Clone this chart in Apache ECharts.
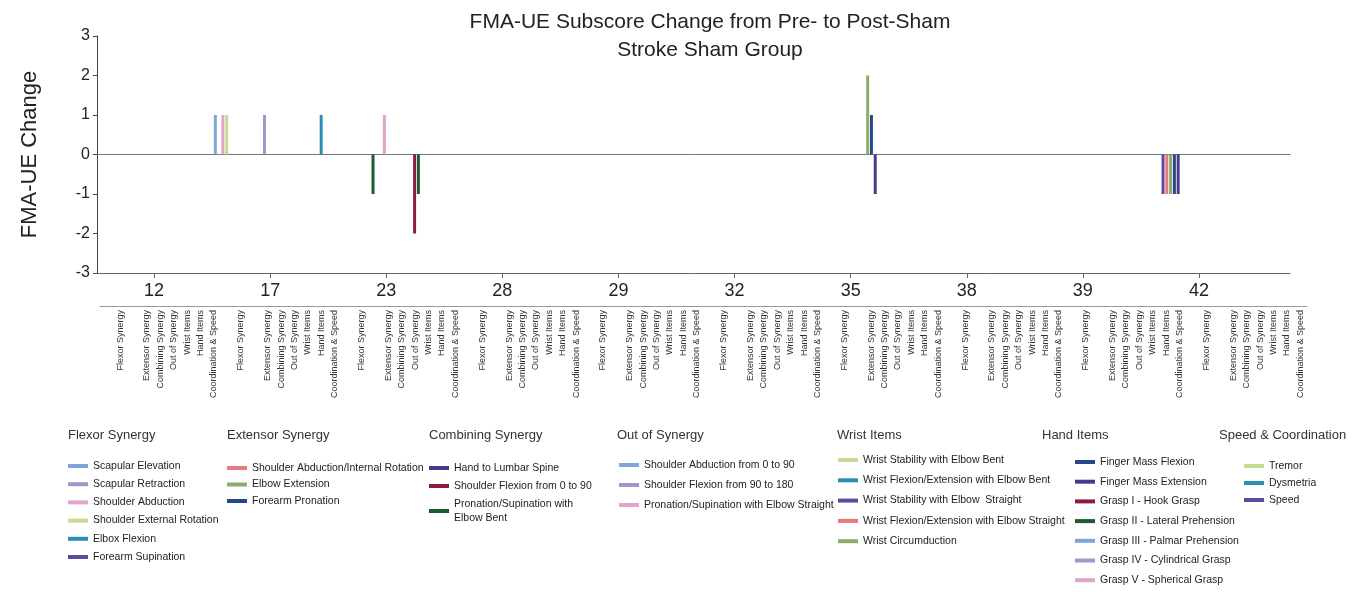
<!DOCTYPE html>
<html>
<head>
<meta charset="utf-8">
<script src="https://cdn.jsdelivr.net/npm/echarts@6/dist/echarts.min.js"></script>
<style>
html,body{margin:0;padding:0;background:#fff;}
#chart{width:1368px;height:592px;}
</style>
</head>
<body>
<div id="chart"></div>
<script>
// ---- Data ----
const participants = ['12', '17', '23', '28', '29', '32', '35', '38', '39', '42'];
const yTicks = [-3, -2, -1, 0, 1, 2, 3];
const sectionLabels = ['Flexor Synergy', 'Extensor Synergy', 'Combining Synergy', 'Out of Synergy', 'Wrist Items', 'Hand Items', 'Coordination & Speed'];

const flexorItems = ['Scapular Elevation', 'Scapular Retraction', 'Shoulder Abduction', 'Shoulder External Rotation', 'Elbox Flexion', 'Forearm Supination'];
const flexorValues = [
  [0, 1, 0, 0, 0, 0, 0, 0, 0, 0],
  [0, 0, 0, 0, 0, 0, 0, 0, 0, 0],
  [0, 1, 0, 0, 0, 0, 0, 0, 0, 0],
  [0, 1, 0, 0, 0, 0, 0, 0, 0, 0],
  [0, 0, 0, 0, 0, 0, 0, 0, 0, 0],
  [0, 0, 0, 0, 0, 0, 0, 0, 0, -1]
];
const extensorItems = ['Shoulder Abduction/Internal Rotation', 'Elbow Extension', 'Forearm Pronation'];
const extensorValues = [
  [0, 0, 0, 0, 0, 0, 0, 0, 0, -1],
  [0, 0, 0, 0, 0, 0, 0, 0, 0, -1],
  [0, 0, 0, 0, 0, 0, 0, 0, 0, -1]
];
const combiningItems = ['Hand to Lumbar Spine', 'Shoulder Flexion from 0 to 90', 'Pronation/Supination with Elbow Bent'];
const combiningValues = [
  [0, 0, 0, 0, 0, 0, 0, 0, 0, -1],
  [0, 0, 0, 0, 0, 0, 0, 0, 0, 0],
  [0, 0, -1, 0, 0, 0, 0, 0, 0, 0]
];
const outItems = ['Shoulder Abduction from 0 to 90', 'Shoulder Flexion from 90 to 180', 'Pronation/Supination with Elbow Straight'];
const outValues = [
  [0, 0, 0, 0, 0, 0, 0, 0, 0, 0],
  [0, 1, 0, 0, 0, 0, 0, 0, 0, 0],
  [0, 0, 1, 0, 0, 0, 0, 0, 0, 0]
];
const wristItems = ['Wrist Stability with Elbow Bent', 'Wrist Flexion/Extension with Elbow Bent', 'Wrist Stability with Elbow  Straight', 'Wrist Flexion/Extension with Elbow Straight', 'Wrist Circumduction'];
const wristValues = [
  [0, 0, 0, 0, 0, 0, 0, 0, 0, 0],
  [0, 0, 0, 0, 0, 0, 0, 0, 0, 0],
  [0, 0, 0, 0, 0, 0, 0, 0, 0, 0],
  [0, 0, 0, 0, 0, 0, 0, 0, 0, 0],
  [0, 0, 0, 0, 0, 0, 2, 0, 0, 0]
];
const handItems = ['Finger Mass Flexion', 'Finger Mass Extension', 'Grasp I - Hook Grasp', 'Grasp II - Lateral Prehension', 'Grasp III - Palmar Prehension', 'Grasp IV - Cylindrical Grasp', 'Grasp V - Spherical Grasp'];
const handValues = [
  [0, 0, 0, 0, 0, 0, 1, 0, 0, 0],
  [0, 0, 0, 0, 0, 0, -1, 0, 0, 0],
  [0, 0, -2, 0, 0, 0, 0, 0, 0, 0],
  [0, 0, -1, 0, 0, 0, 0, 0, 0, 0],
  [0, 0, 0, 0, 0, 0, 0, 0, 0, 0],
  [0, 0, 0, 0, 0, 0, 0, 0, 0, 0],
  [0, 0, 0, 0, 0, 0, 0, 0, 0, 0]
];
const speedItems = ['Tremor', 'Dysmetria', 'Speed'];
const speedValues = [
  [0, 0, 0, 0, 0, 0, 0, 0, 0, 0],
  [0, 1, 0, 0, 0, 0, 0, 0, 0, 0],
  [0, 0, 0, 0, 0, 0, 0, 0, 0, 0]
];

const palette = ['#7ea6da', '#a893cc', '#e2a3cc', '#c4dd91', '#2a8fb7', '#5b4b9f',
                 '#e8797d', '#8bad6c', '#26478a', '#4a3888', '#8c1b3e', '#1e5b34'];

// ---- Build ----
const groups = [
  {title: 'Flexor Synergy', items: flexorItems, values: flexorValues, head: 68, left: 68, top: 459, gap: 4.2},
  {title: 'Extensor Synergy', items: extensorItems, values: extensorValues, head: 227, left: 227, top: 461, gap: 2.5},
  {title: 'Combining Synergy', items: combiningItems, values: combiningValues, head: 429, left: 429, top: 461, gap: 4},
  {title: 'Out of Synergy', items: outItems, values: outValues, head: 617, left: 619, top: 458, gap: 6},
  {title: 'Wrist Items', items: wristItems, values: wristValues, head: 837, left: 838, top: 453, gap: 6.3},
  {title: 'Hand Items', items: handItems, values: handValues, head: 1042, left: 1075, top: 455, gap: 5.7},
  {title: 'Speed & Coordination', items: speedItems, values: speedValues, head: 1219, left: 1244, top: 459, gap: 3}
];

const series = [];
let k = 0;
groups.forEach(g => {
  g.items.forEach((name, i) => {
    series.push({
      type: 'bar', name: name, xAxisIndex: 1, yAxisIndex: 1,
      data: g.values[i], barWidth: 3, barGap: '26%',
      itemStyle: {color: palette[k % palette.length]}
    });
    k++;
  });
});

const sectionCats = [];
participants.forEach(() => {
  sectionCats.push('', sectionLabels[0], '');
  for (let i = 1; i < sectionLabels.length; i++) sectionCats.push(sectionLabels[i]);
});

const font = 'Liberation Sans, Arial, sans-serif';
const titles = [{
  text: 'FMA-UE Subscore Change from Pre- to Post-Sham\nStroke Sham Group',
  left: 710, top: 8, padding: 0, textAlign: 'center',
  textStyle: {fontSize: 21, lineHeight: 28, fontWeight: 'normal', color: '#222', fontFamily: font}
}];
groups.forEach(g => titles.push({
  text: g.title, left: g.head, top: 429, padding: 0,
  textStyle: {fontSize: 13, fontWeight: 'normal', color: '#333', fontFamily: font}
}));

const legends = groups.map(g => ({
  orient: 'vertical', left: g.left, top: g.top, padding: 0,
  data: g.items, itemWidth: 20, itemHeight: 4, icon: 'rect', itemGap: g.gap,
  selectedMode: false,
  formatter: n => n === 'Pronation/Supination with Elbow Bent' ? 'Pronation/Supination with\nElbow Bent' : n,
  textStyle: {fontSize: 10.5, lineHeight: 14, color: '#222', fontFamily: font}
}));

const chart = echarts.init(document.getElementById('chart'), null, {renderer: 'canvas'});
chart.setOption({
  animation: false,
  backgroundColor: '#fff',
  textStyle: {fontFamily: font},
  title: titles,
  legend: legends,
  grid: [
    {left: 97, top: 36, width: 1193, height: 237},
    {left: 96, top: 36, width: 1161, height: 237},
    {left: 97, top: 36, width: 1193, height: 237},
    {left: 100, top: 300, width: 1207, height: 6}
  ],
  xAxis: [
    {gridIndex: 0, type: 'value', min: 0, max: 1, axisLine: {show: true, onZero: false, lineStyle: {color: '#666'}},
     axisTick: {show: false}, axisLabel: {show: false}, splitLine: {show: false}},
    {gridIndex: 1, type: 'category', data: participants, position: 'bottom',
     axisLine: {show: false, onZero: false}, axisTick: {show: true, alignWithLabel: true, length: 5, lineStyle: {color: '#666'}},
     axisLabel: {fontSize: 18, color: '#222', margin: 9, fontFamily: font}},
    {gridIndex: 2, type: 'value', min: 0, max: 1, axisLine: {show: true, onZero: true, lineStyle: {color: '#777'}},
     axisTick: {show: false}, axisLabel: {show: false}, splitLine: {show: false}},
    {gridIndex: 3, type: 'category', data: sectionCats, position: 'bottom',
     axisLine: {show: true, lineStyle: {color: '#999'}}, axisTick: {show: false},
     axisLabel: {interval: 0, rotate: 90, fontSize: 9, color: '#333', margin: 4, fontFamily: font}}
  ],
  yAxis: [
    {gridIndex: 0, type: 'value', min: -3, max: 3, interval: 1,
     axisLine: {show: true, lineStyle: {color: '#444'}}, axisTick: {show: true, length: 4, lineStyle: {color: '#444'}},
     axisLabel: {fontSize: 16, color: '#222', margin: 7, fontFamily: font}, splitLine: {show: false},
     name: 'FMA-UE Change', nameLocation: 'middle', nameRotate: 90, nameGap: 56,
     nameTextStyle: {fontSize: 22, color: '#222', fontFamily: font}},
    {gridIndex: 1, type: 'value', min: -3, max: 3, interval: 1, show: false},
    {gridIndex: 2, type: 'value', min: -3, max: 3, interval: 1, show: false},
    {gridIndex: 3, type: 'value', show: false}
  ],
  series: series
});
</script>
</body>
</html>
